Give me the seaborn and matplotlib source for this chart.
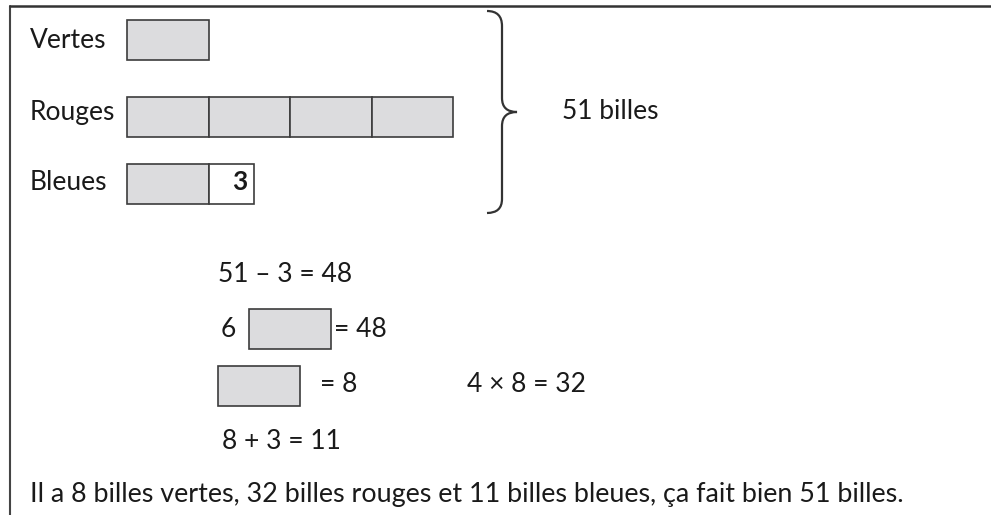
import numpy as np
import pandas as pd
import seaborn as sns
import matplotlib.pyplot as plt
from matplotlib.path import Path
from matplotlib.patches import PathPatch

# donnees du probleme
categories = ["Vertes", "Rouges", "Bleues"]
units = [1, 4, 1]          # nombre de parts grises
extra = [0, 0, 3]          # billes en plus
total = 51
extra_label = "3"
total_label = "51 billes"

equations = ["51 \u2013 3 = 48", "6", "= 48", "= 8", "4 \u00d7 8 = 32", "8 + 3 = 11"]
conclusion = "Il a 8 billes vertes, 32 billes rouges et 11 billes bleues, \u00e7a fait bien 51 billes."

# mise en page (pixels)
unit_w = 81.5
extra_w = 45
bar_h = 40
bar_x0 = 127
bar_y = [40, 117, 184]
label_base = [48, 120, 190]

gray = "#dcdcde"
edge = "#3c3c3c"
txt = "#1a1a1a"

sns.set_theme(style="white")
plt.rcParams['font.family'] = ['Lato', 'DejaVu Sans']

fig = plt.figure(figsize=(9.91, 5.15), dpi=100)
ax = fig.add_axes([0, 0, 1, 1])
ax.set_xlim(0, 991)
ax.set_ylim(515, 0)
ax.axis("off")

fs = 19

# cadre
ax.plot([10, 10], [6, 515], color="#444444", lw=1.5)
ax.plot([10, 991], [6, 6], color="#333333", lw=1.8)

# barres
segs = []
for cat, n, e, y in zip(categories, units, extra, bar_y):
    for i in range(n):
        segs.append((cat, bar_x0 + i * unit_w, unit_w, y, gray))
    if e:
        segs.append((cat, bar_x0 + n * unit_w, extra_w, y, "white"))
df = pd.DataFrame(segs, columns=["cat", "left", "width", "y", "color"])
ax.barh(df["y"], df["width"], left=df["left"], height=bar_h,
        color=df["color"], edgecolor=edge, linewidth=1.2)

for cat, yb in zip(categories, label_base):
    ax.text(30, yb, cat, fontsize=fs, color=txt, va="baseline")

ax.text(bar_x0 + unit_w + extra_w - 6, label_base[2], extra_label, fontsize=fs,
        fontweight="bold", color=txt, va="baseline", ha="right")

# accolade
verts = [(487, 11), (502, 11), (502, 26), (502, 98), (502, 112), (517, 112),
         (502, 112), (502, 126), (502, 199), (502, 213), (487, 213)]
codes = [Path.MOVETO, Path.CURVE3, Path.CURVE3, Path.LINETO, Path.CURVE3, Path.CURVE3,
         Path.CURVE3, Path.CURVE3, Path.LINETO, Path.CURVE3, Path.CURVE3]
ax.add_patch(PathPatch(Path(verts, codes), fill=False, edgecolor="#333333", lw=1.6))
ax.text(562, 119, total_label, fontsize=fs, color=txt, va="baseline")

# calculs
ax.text(218, 282, equations[0], fontsize=fs, color=txt, va="baseline")
ax.text(221, 337, equations[1], fontsize=fs, color=txt, va="baseline")
ax.barh([329], [unit_w], left=[249], height=bar_h, color=gray, edgecolor=edge, linewidth=1.2)
ax.text(334, 337, equations[2], fontsize=fs, color=txt, va="baseline")
ax.barh([386], [unit_w], left=[218], height=bar_h, color=gray, edgecolor=edge, linewidth=1.2)
ax.text(320, 392, equations[3], fontsize=fs, color=txt, va="baseline")
ax.text(467, 392, equations[4], fontsize=fs, color=txt, va="baseline")
ax.text(222, 449, equations[5], fontsize=fs, color=txt, va="baseline")

ax.text(30, 502, conclusion, fontsize=19.4, color=txt, va="baseline")

fig.savefig("out.png", dpi=100)
